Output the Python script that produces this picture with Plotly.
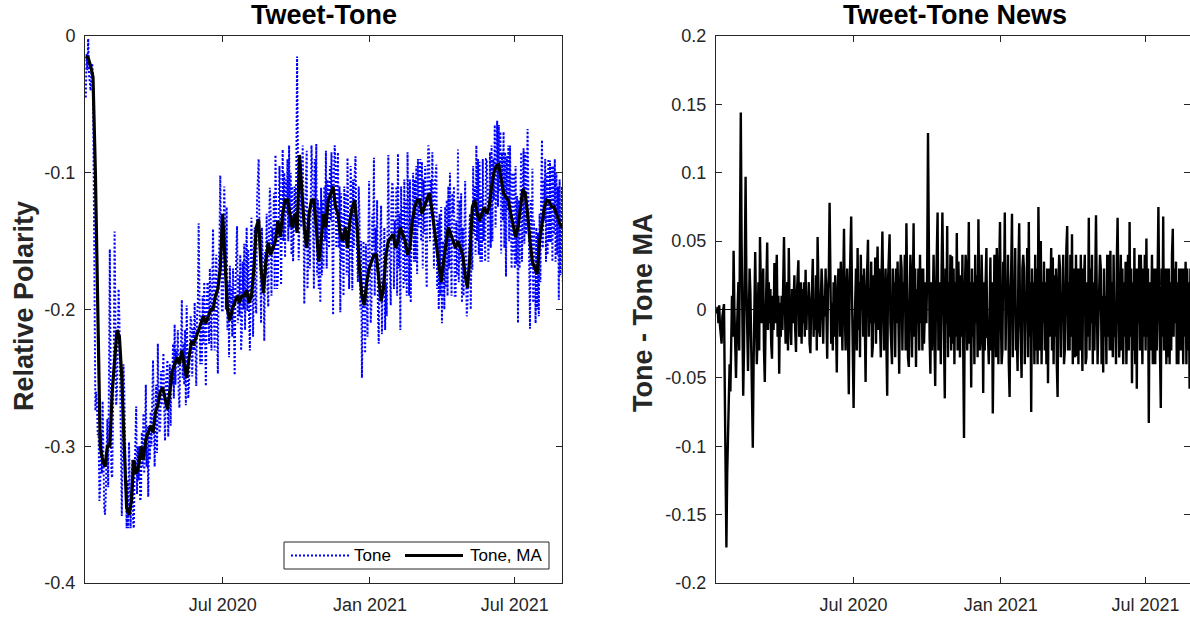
import plotly.graph_objects as go
import pandas as pd

# Daily values (start 2020-01-12)
start_date = "2020-01-12"

tone = [
    -0.045, -0.013, -0.025, -0.002, -0.028, -0.036, -0.040, -0.027, -0.020, -0.030, -0.110, -0.200,
    -0.274, -0.260, -0.270, -0.292, -0.290, -0.340, -0.330, -0.290, -0.320, -0.267, -0.310, -0.345,
    -0.350, -0.335, -0.305, -0.280, -0.330, -0.240, -0.156, -0.250, -0.320, -0.323, -0.290, -0.230,
    -0.143, -0.220, -0.270, -0.260, -0.225, -0.185, -0.208, -0.260, -0.290, -0.351, -0.290, -0.240,
    -0.258, -0.300, -0.340, -0.360, -0.325, -0.360, -0.297, -0.330, -0.360, -0.330, -0.310, -0.355,
    -0.360, -0.320, -0.285, -0.271, -0.335, -0.300, -0.325, -0.300, -0.340, -0.336, -0.290, -0.315,
    -0.276, -0.320, -0.290, -0.255, -0.315, -0.285, -0.337, -0.285, -0.310, -0.275, -0.300, -0.255,
    -0.237, -0.280, -0.315, -0.280, -0.255, -0.305, -0.225, -0.270, -0.290, -0.286, -0.245, -0.270,
    -0.252, -0.232, -0.272, -0.296, -0.255, -0.245, -0.237, -0.293, -0.263, -0.240, -0.285, -0.245,
    -0.255, -0.225, -0.265, -0.211, -0.255, -0.230, -0.235, -0.215, -0.260, -0.272, -0.235, -0.225,
    -0.193, -0.250, -0.225, -0.255, -0.215, -0.270, -0.197, -0.250, -0.265, -0.255, -0.215, -0.205,
    -0.209, -0.249, -0.214, -0.230, -0.195, -0.245, -0.256, -0.205, -0.195, -0.137, -0.195, -0.240,
    -0.205, -0.240, -0.190, -0.225, -0.180, -0.215, -0.256, -0.200, -0.180, -0.185, -0.225, -0.170,
    -0.210, -0.230, -0.180, -0.141, -0.200, -0.230, -0.180, -0.160, -0.210, -0.247, -0.170, -0.150,
    -0.102, -0.160, -0.200, -0.202, -0.150, -0.110, -0.140, -0.200, -0.125, -0.215, -0.180, -0.235,
    -0.168, -0.208, -0.183, -0.220, -0.170, -0.210, -0.248, -0.185, -0.165, -0.139, -0.210, -0.175,
    -0.205, -0.160, -0.230, -0.217, -0.165, -0.200, -0.152, -0.215, -0.170, -0.140, -0.201, -0.156,
    -0.205, -0.230, -0.170, -0.133, -0.180, -0.220, -0.170, -0.140, -0.195, -0.203, -0.120, -0.105,
    -0.090, -0.144, -0.164, -0.210, -0.140, -0.160, -0.168, -0.223, -0.158, -0.175, -0.130, -0.185,
    -0.198, -0.136, -0.111, -0.130, -0.190, -0.140, -0.155, -0.115, -0.185, -0.087, -0.140, -0.185,
    -0.177, -0.110, -0.095, -0.127, -0.182, -0.137, -0.083, -0.150, -0.100, -0.162, -0.105, -0.130,
    -0.090, -0.150, -0.080, -0.140, -0.100, -0.160, -0.110, -0.165, -0.130, -0.110, -0.140, -0.100,
    -0.015, -0.114, -0.164, -0.134, -0.090, -0.140, -0.090, -0.080, -0.130, -0.196, -0.130, -0.105,
    -0.084, -0.185, -0.135, -0.130, -0.170, -0.100, -0.080, -0.100, -0.150, -0.185, -0.090, -0.130,
    -0.079, -0.175, -0.120, -0.185, -0.125, -0.195, -0.111, -0.175, -0.120, -0.170, -0.110, -0.150,
    -0.084, -0.170, -0.105, -0.120, -0.155, -0.095, -0.135, -0.085, -0.145, -0.204, -0.100, -0.080,
    -0.095, -0.155, -0.115, -0.085, -0.155, -0.110, -0.202, -0.115, -0.165, -0.130, -0.190, -0.110,
    -0.150, -0.115, -0.175, -0.089, -0.145, -0.185, -0.155, -0.095, -0.125, -0.186, -0.105, -0.155,
    -0.100, -0.088, -0.140, -0.160, -0.180, -0.110, -0.132, -0.200, -0.150, -0.250, -0.180, -0.150,
    -0.177, -0.232, -0.152, -0.190, -0.220, -0.150, -0.106, -0.170, -0.210, -0.195, -0.130, -0.155,
    -0.089, -0.190, -0.140, -0.160, -0.120, -0.200, -0.225, -0.170, -0.150, -0.124, -0.218, -0.179,
    -0.185, -0.140, -0.215, -0.180, -0.205, -0.130, -0.087, -0.150, -0.180, -0.197, -0.117, -0.107,
    -0.115, -0.185, -0.135, -0.155, -0.110, -0.190, -0.086, -0.170, -0.130, -0.215, -0.110, -0.150,
    -0.125, -0.185, -0.105, -0.180, -0.120, -0.190, -0.085, -0.150, -0.190, -0.105, -0.195, -0.135,
    -0.145, -0.100, -0.165, -0.105, -0.165, -0.095, -0.174, -0.090, -0.140, -0.110, -0.090, -0.150,
    -0.092, -0.170, -0.105, -0.145, -0.095, -0.165, -0.184, -0.100, -0.080, -0.085, -0.150, -0.105,
    -0.125, -0.085, -0.165, -0.170, -0.110, -0.095, -0.094, -0.185, -0.135, -0.200, -0.130, -0.190,
    -0.125, -0.210, -0.150, -0.155, -0.200, -0.125, -0.184, -0.120, -0.190, -0.110, -0.170, -0.100,
    -0.145, -0.190, -0.115, -0.130, -0.110, -0.190, -0.190, -0.135, -0.175, -0.083, -0.180, -0.120,
    -0.165, -0.115, -0.195, -0.140, -0.190, -0.120, -0.106, -0.165, -0.205, -0.194, -0.154, -0.144,
    -0.130, -0.200, -0.150, -0.171, -0.095, -0.145, -0.110, -0.160, -0.080, -0.150, -0.090, -0.160,
    -0.092, -0.165, -0.115, -0.165, -0.090, -0.150, -0.125, -0.165, -0.090, -0.090, -0.120, -0.165,
    -0.135, -0.085, -0.155, -0.080, -0.150, -0.090, -0.120, -0.065, -0.140, -0.085, -0.062, -0.125,
    -0.065, -0.114, -0.070, -0.159, -0.085, -0.135, -0.070, -0.155, -0.085, -0.176, -0.088, -0.128,
    -0.080, -0.150, -0.080, -0.120, -0.170, -0.100, -0.160, -0.100, -0.170, -0.095, -0.167, -0.117,
    -0.210, -0.120, -0.170, -0.125, -0.085, -0.165, -0.122, -0.082, -0.152, -0.085, -0.145, -0.075,
    -0.068, -0.120, -0.170, -0.214, -0.120, -0.170, -0.097, -0.195, -0.135, -0.170, -0.210, -0.140,
    -0.200, -0.144, -0.205, -0.130, -0.180, -0.110, -0.076, -0.155, -0.105, -0.135, -0.090, -0.165,
    -0.100, -0.160, -0.090, -0.151, -0.091, -0.151, -0.095, -0.165, -0.095, -0.145, -0.090, -0.165,
    -0.100, -0.160, -0.110, -0.193, -0.105, -0.175, -0.130, -0.110, -0.180,
]

# Moving average, read every third day
tone_ma = [
    -0.015, -0.016, -0.022, -0.030, -0.100, -0.220, -0.300, -0.310, -0.315, -0.300,
    -0.300, -0.260, -0.240, -0.215, -0.220, -0.250, -0.300, -0.345, -0.350, -0.340,
    -0.310, -0.320, -0.315, -0.300, -0.310, -0.295, -0.290, -0.285, -0.290, -0.275,
    -0.270, -0.260, -0.257, -0.265, -0.273, -0.260, -0.245, -0.240, -0.235, -0.240,
    -0.230, -0.240, -0.250, -0.235, -0.224, -0.225, -0.220, -0.215, -0.210, -0.205,
    -0.210, -0.205, -0.200, -0.200, -0.190, -0.185, -0.170, -0.130, -0.170, -0.200,
    -0.208, -0.200, -0.195, -0.190, -0.195, -0.190, -0.190, -0.186, -0.195, -0.190,
    -0.170, -0.140, -0.134, -0.170, -0.188, -0.165, -0.151, -0.160, -0.155, -0.150,
    -0.135, -0.147, -0.130, -0.120, -0.120, -0.130, -0.140, -0.130, -0.144, -0.087,
    -0.110, -0.140, -0.155, -0.130, -0.120, -0.120, -0.140, -0.165, -0.150, -0.130,
    -0.140, -0.120, -0.115, -0.110, -0.125, -0.130, -0.145, -0.150, -0.140, -0.155,
    -0.135, -0.125, -0.120, -0.140, -0.170, -0.190, -0.197, -0.180, -0.170, -0.165,
    -0.160, -0.160, -0.180, -0.194, -0.185, -0.160, -0.150, -0.147, -0.145, -0.155,
    -0.150, -0.140, -0.145, -0.150, -0.160, -0.155, -0.135, -0.125, -0.120, -0.120,
    -0.130, -0.125, -0.120, -0.115, -0.125, -0.140, -0.155, -0.170, -0.180, -0.165,
    -0.150, -0.140, -0.145, -0.150, -0.155, -0.150, -0.155, -0.160, -0.175, -0.184,
    -0.160, -0.125, -0.120, -0.130, -0.135, -0.130, -0.125, -0.130, -0.125, -0.110,
    -0.100, -0.095, -0.094, -0.105, -0.115, -0.118, -0.120, -0.130, -0.140, -0.147,
    -0.140, -0.125, -0.112, -0.115, -0.130, -0.150, -0.165, -0.170, -0.174, -0.150,
    -0.135, -0.125, -0.120, -0.121, -0.125, -0.125, -0.130, -0.135, -0.140,
]

# Tone minus its moving average, daily
tone_news = [
    -0.003, 0.002, -0.010, 0.003, -0.012, -0.020, -0.025, -0.005, 0.002, 0.004, -0.060, -0.120,
    -0.174, -0.120, -0.090, -0.072, -0.040, -0.060, -0.030, 0.010, -0.020, 0.043, 0.000, -0.035,
    -0.050, -0.020, 0.010, 0.020, -0.030, 0.060, 0.144, 0.050, -0.020, -0.063, -0.030, 0.030,
    0.097, 0.020, -0.030, -0.045, -0.010, 0.030, 0.012, -0.040, -0.070, -0.101, -0.040, 0.010,
    0.042, 0.000, -0.040, -0.020, 0.020, -0.030, 0.053, 0.020, -0.010, 0.010, 0.030, -0.030,
    -0.053, -0.010, 0.025, 0.049, -0.015, 0.020, -0.010, 0.015, -0.025, -0.036, 0.010, -0.015,
    0.034, -0.010, 0.020, 0.040, -0.020, 0.010, -0.047, 0.005, -0.020, 0.010, -0.015, 0.030,
    0.053, 0.010, -0.025, -0.005, 0.020, -0.030, 0.045, 0.000, -0.020, -0.026, 0.015, -0.010,
    0.005, 0.025, -0.015, -0.031, 0.010, 0.020, 0.036, -0.020, 0.010, 0.020, -0.025, 0.015,
    -0.010, 0.020, -0.020, 0.029, -0.015, 0.010, 0.000, 0.020, -0.025, -0.032, 0.005, 0.015,
    0.037, -0.020, 0.005, -0.015, 0.025, -0.030, 0.053, 0.000, -0.015, -0.020, 0.020, 0.030,
    0.015, -0.025, 0.010, -0.005, 0.030, -0.020, -0.036, 0.015, 0.025, 0.078, 0.020, -0.025,
    0.005, -0.030, 0.020, -0.020, 0.025, -0.010, -0.046, 0.010, 0.030, 0.020, -0.020, 0.035,
    -0.010, -0.030, 0.020, 0.059, 0.000, -0.030, 0.010, 0.030, -0.020, -0.062, 0.015, 0.035,
    0.068, 0.010, -0.030, -0.072, -0.020, 0.020, 0.030, -0.030, 0.045, -0.015, 0.020, -0.035,
    0.040, 0.000, 0.025, -0.020, 0.030, -0.010, -0.053, 0.010, 0.030, 0.051, -0.020, 0.015,
    -0.010, 0.035, -0.035, -0.027, 0.025, -0.010, 0.038, -0.025, 0.020, 0.046, -0.015, 0.030,
    -0.010, -0.035, 0.025, 0.057, 0.010, -0.030, 0.000, 0.030, -0.025, -0.063, 0.020, 0.035,
    0.055, -0.010, -0.030, -0.040, 0.030, 0.010, 0.020, -0.035, 0.030, -0.010, 0.035, -0.020,
    -0.047, 0.015, 0.040, 0.030, -0.030, 0.020, 0.000, 0.040, -0.030, 0.063, 0.010, -0.035,
    -0.042, 0.025, 0.040, 0.020, -0.035, 0.010, 0.063, -0.020, 0.030, -0.042, 0.015, -0.010,
    0.030, -0.030, 0.040, -0.010, 0.030, -0.030, 0.030, -0.025, 0.010, 0.020, -0.010, 0.030,
    0.129, 0.030, -0.020, -0.047, 0.020, -0.030, 0.020, 0.040, -0.020, -0.056, 0.010, 0.035,
    0.071, -0.030, 0.020, 0.000, -0.040, 0.030, 0.071, 0.020, -0.030, -0.065, 0.030, -0.010,
    0.061, -0.035, 0.020, -0.020, 0.040, -0.030, 0.039, -0.025, 0.030, -0.040, 0.020, -0.020,
    0.056, -0.030, 0.035, 0.000, -0.035, 0.025, -0.020, 0.040, -0.030, -0.094, 0.010, 0.040,
    0.030, -0.030, 0.010, 0.064, -0.025, 0.020, -0.057, 0.030, -0.020, 0.020, -0.040, 0.040,
    -0.010, 0.025, -0.035, 0.066, 0.010, -0.030, -0.020, 0.040, 0.010, -0.061, 0.020, -0.030,
    0.020, 0.045, -0.020, -0.020, -0.040, 0.030, 0.038, -0.030, 0.020, -0.076, 0.010, 0.040,
    0.020, -0.035, 0.045, -0.010, -0.040, 0.030, 0.064, 0.000, -0.040, -0.030, 0.035, 0.010,
    0.071, -0.030, 0.020, 0.000, 0.040, -0.040, -0.064, 0.010, 0.030, 0.070, -0.035, 0.015,
    0.000, 0.045, -0.030, -0.020, -0.045, 0.030, 0.063, 0.000, -0.030, -0.050, 0.030, 0.040,
    0.030, -0.040, 0.010, 0.000, 0.045, -0.035, 0.064, -0.020, 0.020, -0.075, 0.030, -0.010,
    0.020, -0.040, 0.040, -0.030, 0.030, -0.040, 0.075, 0.010, -0.030, 0.050, -0.040, 0.020,
    -0.010, 0.035, -0.030, 0.020, -0.040, 0.030, -0.054, 0.030, -0.020, 0.010, 0.045, -0.030,
    0.038, -0.040, 0.025, -0.020, 0.030, -0.040, -0.064, 0.020, 0.040, 0.030, -0.035, 0.010,
    0.000, 0.040, -0.040, -0.030, 0.030, 0.045, 0.061, -0.030, 0.020, -0.030, 0.040, -0.020,
    0.055, -0.040, 0.030, 0.010, -0.035, 0.040, -0.034, 0.030, -0.040, 0.030, -0.030, 0.040,
    0.000, -0.045, 0.030, 0.020, 0.040, -0.040, -0.035, 0.020, -0.020, 0.067, -0.030, 0.030,
    -0.010, 0.040, -0.040, 0.020, -0.030, 0.040, 0.069, 0.010, -0.040, -0.010, 0.030, 0.040,
    0.030, -0.040, 0.010, -0.046, 0.030, -0.020, 0.010, -0.040, 0.040, -0.020, 0.040, -0.030,
    0.043, -0.030, 0.020, -0.035, 0.040, -0.020, 0.000, -0.040, 0.035, 0.067, 0.010, -0.035,
    -0.010, 0.040, -0.030, 0.030, -0.040, 0.020, -0.020, 0.035, -0.040, 0.010, 0.040, -0.030,
    0.064, -0.020, 0.030, -0.054, 0.020, -0.030, 0.045, -0.040, 0.030, -0.058, 0.030, -0.010,
    0.040, -0.030, 0.040, 0.010, -0.040, 0.030, -0.020, 0.040, -0.030, 0.052, -0.020, 0.030,
    -0.083, 0.020, -0.030, 0.000, 0.040, -0.040, -0.010, 0.030, -0.040, 0.030, -0.030, 0.040,
    0.075, 0.010, -0.040, -0.072, 0.030, -0.020, 0.068, -0.030, 0.030, 0.000, -0.040, 0.030,
    -0.035, 0.030, -0.040, 0.020, -0.030, 0.040, 0.059, -0.020, 0.030, -0.010, 0.035, -0.040,
    0.020, -0.040, 0.030, -0.030, 0.030, -0.030, 0.030, -0.040, 0.030, -0.020, 0.035, -0.040,
    0.030, -0.030, 0.020, -0.058, 0.030, -0.040, 0.010, 0.030, -0.040,
]

x_tick_vals = ["2020-07-01", "2021-01-01", "2021-07-01"]
x_tick_text = ["Jul 2020", "Jan 2021", "Jul 2021"]
y1_tick_vals = [-0.4, -0.3, -0.2, -0.1, 0]
y1_tick_text = ["-0.4", "-0.3", "-0.2", "-0.1", "0"]
y2_tick_vals = [-0.2, -0.15, -0.1, -0.05, 0, 0.05, 0.1, 0.15, 0.2]
y2_tick_text = ["-0.2", "-0.15", "-0.1", "-0.05", "0", "0.05", "0.1", "0.15", "0.2"]
legend_labels = ["Tone", "Tone, MA"]

dates = pd.date_range(start_date, periods=len(tone), freq="D")
ma_dates = pd.date_range(start_date, periods=len(tone_ma), freq="3D")
news_dates = pd.date_range(start_date, periods=len(tone_news), freq="D")

W, H = 1190, 618
ML, MT, MB = 0, 36, 35
PH = H - MT - MB
FONT = "Liberation Sans, Arial, sans-serif"
AX = "#262626"
BLUE = "#0000ff"


def px(xp):
    return xp / W


def py(yp):
    return (H - MB - yp) / PH


fig = go.Figure()
fig.add_trace(go.Scatter(x=dates, y=tone, mode="lines", name=legend_labels[0],
                         line=dict(color=BLUE, width=2, dash="2px,2px"),
                         xaxis="x", yaxis="y", showlegend=False))
fig.add_trace(go.Scatter(x=ma_dates, y=tone_ma, mode="lines", name=legend_labels[1],
                         line=dict(color="#000000", width=3.2),
                         xaxis="x", yaxis="y", showlegend=False))
fig.add_trace(go.Scatter(x=news_dates, y=tone_news, mode="lines", name="News",
                         line=dict(color="#000000", width=2.4),
                         xaxis="x2", yaxis="y2", showlegend=False))

common = dict(showline=True, linecolor=AX, linewidth=1, mirror="ticks",
              ticks="inside", ticklen=6, tickcolor=AX, tickwidth=1,
              showgrid=False, zeroline=False,
              tickfont=dict(family=FONT, size=18, color=AX))

fig.update_layout(
    width=W, height=H,
    margin=dict(l=ML, r=0, t=MT, b=MB),
    paper_bgcolor="white", plot_bgcolor="white",
    showlegend=False,
    xaxis=dict(domain=[px(85), px(562)], type="date",
               range=["2020-01-11", "2021-08-29"],
               tickvals=x_tick_vals, ticktext=x_tick_text,
               ticklabelstandoff=5, anchor="y", **common),
    yaxis=dict(domain=[0, 1], range=[-0.4, 0],
               tickvals=y1_tick_vals, ticktext=y1_tick_text,
               ticklabelstandoff=5, anchor="x", **common),
    xaxis2=dict(domain=[px(716), 1.0], type="date",
                range=["2020-01-11", "2021-08-25 12:00"],
                tickvals=x_tick_vals, ticktext=x_tick_text,
                ticklabelstandoff=5, anchor="y2", **common),
    yaxis2=dict(domain=[0, 1], range=[-0.2, 0.2],
                tickvals=y2_tick_vals, ticktext=y2_tick_text,
                ticklabelstandoff=5, anchor="x2", **common),
)

# zero line in the right panel
fig.add_shape(type="line", xref="x2 domain", x0=0, x1=1, yref="y2", y0=0, y1=0,
              line=dict(color="#000000", width=1), layer="above")

# legend box (drawn to match the MATLAB-style legend)
fig.add_shape(type="rect", xref="paper", yref="paper",
              x0=px(284), x1=px(549), y0=py(569), y1=py(542),
              line=dict(color=AX, width=1), fillcolor="white", layer="above")
fig.add_shape(type="line", xref="paper", yref="paper",
              x0=px(291), x1=px(349), y0=py(555.5), y1=py(555.5),
              line=dict(color=BLUE, width=2, dash="2px,2px"), layer="above")
fig.add_shape(type="line", xref="paper", yref="paper",
              x0=px(405), x1=px(463), y0=py(555.5), y1=py(555.5),
              line=dict(color="#000000", width=3), layer="above")
leg_font = dict(family=FONT, size=17, color="#000000")
fig.add_annotation(text=legend_labels[0], x=px(352), y=py(555.5), xref="paper", yref="paper",
                   showarrow=False, xanchor="left", yanchor="middle", font=leg_font)
fig.add_annotation(text=legend_labels[1], x=px(468), y=py(555.5), xref="paper", yref="paper",
                   showarrow=False, xanchor="left", yanchor="middle", font=leg_font)

ann_font_t = dict(family=FONT, size=27, color="#000000")
fig.add_annotation(text="<b>Tweet-Tone</b>", x=px((85 + 562) / 2), y=py(15),
                   xref="paper", yref="paper", showarrow=False, font=ann_font_t,
                   xanchor="center", yanchor="middle")
fig.add_annotation(text="<b>Tweet-Tone News</b>", x=px((716 + 1193) / 2), y=py(15),
                   xref="paper", yref="paper", showarrow=False, font=ann_font_t,
                   xanchor="center", yanchor="middle")
fig.add_annotation(text="<b>Relative Polarity</b>", x=px(24), y=py(306),
                   xref="paper", yref="paper", showarrow=False, textangle=-90,
                   font=dict(family=FONT, size=27, color=AX),
                   xanchor="center", yanchor="middle")
fig.add_annotation(text="<b>Tone - Tone MA</b>", x=px(643), y=py(313),
                   xref="paper", yref="paper", showarrow=False, textangle=-90,
                   font=dict(family=FONT, size=27, color=AX),
                   xanchor="center", yanchor="middle")

fig.write_html("out.html")
